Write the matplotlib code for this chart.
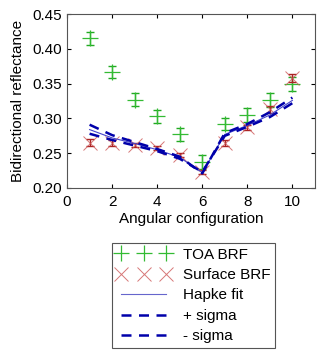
import matplotlib
matplotlib.use('Agg')
import matplotlib.pyplot as plt

plt.rcParams['font.family'] = ['Liberation Sans', 'DejaVu Sans']

x = [1, 2, 3, 4, 5, 6, 7, 8, 9, 10]
toa = [0.415, 0.367, 0.327, 0.303, 0.277, 0.238, 0.292, 0.305, 0.327, 0.350]
toa_err = [0.009, 0.009, 0.009, 0.009, 0.009, 0.010, 0.009, 0.010, 0.010, 0.010]
surf = [0.265, 0.265, 0.262, 0.257, 0.247, 0.223, 0.265, 0.287, 0.313, 0.358]
surf_err = [0.005, 0.004, 0.003, 0.003, 0.003, 0.003, 0.004, 0.004, 0.005, 0.006]
fit = [0.284, 0.272, 0.264, 0.255, 0.244, 0.222, 0.277, 0.290, 0.305, 0.326]
plus_sigma = [0.291, 0.276, 0.266, 0.256, 0.245, 0.221, 0.279, 0.292, 0.309, 0.330]
minus_sigma = [0.278, 0.269, 0.261, 0.253, 0.242, 0.223, 0.275, 0.288, 0.302, 0.322]

fig = plt.figure(figsize=(3.24, 3.54), dpi=100)
ax = fig.add_axes([0.207, 0.469, 0.765, 0.491])

green = '#33bb33'
red = '#cc5555'
blue = '#0000aa'

ax.errorbar(x, toa, yerr=toa_err, fmt='none', ecolor='#22aa22', elinewidth=1, capsize=3)
l1, = ax.plot(x, toa, '+', color=green, markersize=11, markeredgewidth=0.9)
ax.errorbar(x, surf, yerr=surf_err, fmt='none', ecolor='#aa2222', elinewidth=1, capsize=3)
l2, = ax.plot(x, surf, 'x', color=red, markersize=10, markeredgewidth=0.7, alpha=0.8)
l3, = ax.plot(x, fit, '-', color='#4444cc', linewidth=0.8)
l4, = ax.plot(x, plus_sigma, '--', color=blue, linewidth=1.8, dashes=(4, 3))
l5, = ax.plot(x, minus_sigma, '--', color=blue, linewidth=1.8, dashes=(4, 3))

ax.set_xlim(0, 11)
ax.set_ylim(0.20, 0.45)
ax.set_xticks([0, 2, 4, 6, 8, 10])
ax.set_yticks([0.20, 0.25, 0.30, 0.35, 0.40, 0.45])
ax.set_yticklabels(['0.20', '0.25', '0.30', '0.35', '0.40', '0.45'])
ax.tick_params(direction='in', top=True, right=True, labelsize=11, length=3)
ax.tick_params(axis='x', pad=5)
ax.tick_params(axis='y', pad=4)
for s in ax.spines.values():
    s.set_color('#555555')
ax.set_xlabel('Angular configuration', fontsize=11, labelpad=2)
ax.set_ylabel('Bidirectional reflectance', fontsize=11, labelpad=5)

leg = fig.legend([l1, l2, l3, l4, l5], ['TOA BRF', 'Surface BRF', 'Hapke fit', '+ sigma', '- sigma'],
                 loc='upper center', bbox_to_anchor=(0.597, 0.335), numpoints=3,
                 fontsize=11, fancybox=False, edgecolor='#555555', framealpha=1,
                 handlelength=3.5, labelspacing=0.42, borderpad=0.3, handletextpad=0.8)
leg.get_frame().set_linewidth(0.8)
leg.legend_handles[2].set_color('#6666cc')

fig.savefig('out.png', dpi=100)
